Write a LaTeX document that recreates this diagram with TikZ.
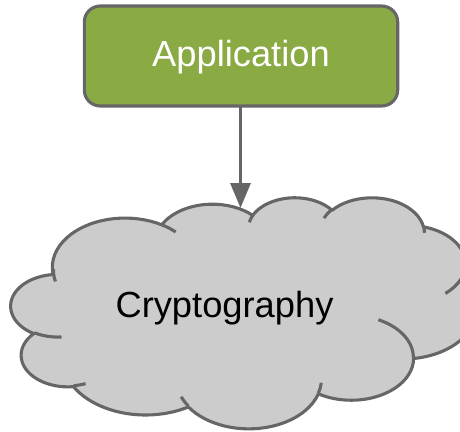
\documentclass[tikz,border=0pt]{standalone}
\usepackage{fontspec}
\setmainfont{Liberation Sans}
\usetikzlibrary{arrows.meta}

\definecolor{appgreen}{RGB}{138,170,67}
\definecolor{edgegray}{RGB}{102,102,102}
\definecolor{cloudgray}{RGB}{204,204,204}

% Cloud outline built from elliptic arcs, each given by its radii and its
% start/sweep angles (visual angles, converted here to parametric ones).
\newcommand\cloudpathlist{}
\newcommand\addcloudarc[4]{%
  \pgfmathsetmacro\arcstart{atan2((#1)*sin(#3),(#2)*cos(#3))}%
  \pgfmathsetmacro\arcend{atan2((#1)*sin(#3+#4),(#2)*cos(#3+#4))}%
  \pgfmathsetmacro\arcend{\arcend<\arcstart ? \arcend+360 : \arcend}%
  \xdef\cloudpathlist{\cloudpathlist arc[start angle=\arcstart, end angle=\arcend, x radius=#1, y radius=#2] }%
}
\newcommand\cloudcrease[6]{%
  \pgfmathsetmacro\arcstart{atan2((#3)*sin(#5),(#4)*cos(#5))}%
  \pgfmathsetmacro\arcend{atan2((#3)*sin(#5+#6),(#4)*cos(#5+#6))}%
  \pgfmathsetmacro\arcend{\arcend<\arcstart ? \arcend+360 : \arcend}%
  \draw[cloudline] (#1,#2) arc[start angle=\arcstart, end angle=\arcend, x radius=#3, y radius=#4];%
}

\begin{document}
\begin{tikzpicture}[x=1pt, y=-1pt,
  box/.style={draw=edgegray, line width=3.1pt, fill=appgreen, rounded corners=16pt},
  cloudline/.style={draw=edgegray, line width=3.1pt, line join=round},
  label/.style={font=\fontsize{36.3}{42}\selectfont, inner sep=0pt, anchor=base},
  link/.style={draw=edgegray, line width=3.3pt, -{Triangle[length=25pt, width=20pt]}}]

\useasboundingbox (0,0) rectangle (460,431);
\clip (0,0) rectangle (460,431);

% Application box
\draw[box] (84.3,6) rectangle (397.7,106);
\node[label, text=white] (app) at (241,66) {Application};
\coordinate (appbottom) at (240.5,106);

% Cryptography cloud
\begin{scope}[shift={(11,197)}, xscale=10.764, yscale=5.347]
  \addcloudarc{6.753}{9.190}{-190.4875}{123.7805}
  \addcloudarc{5.333}{7.267}{-144.1024}{89.9452}
  \addcloudarc{4.365}{5.945}{-145.8079}{99.7230}
  \addcloudarc{4.857}{6.595}{-130.9861}{117.2417}
  \addcloudarc{5.333}{7.273}{-78.7089}{109.0269}
  \addcloudarc{6.775}{9.220}{-46.2673}{130.2690}
  \addcloudarc{5.785}{7.867}{0.6250}{114.0333}
  \addcloudarc{6.752}{9.215}{22.4516}{115.1726}
  \addcloudarc{7.720}{10.543}{66.2426}{75.7110}
  \addcloudarc{4.360}{5.918}{-274.9421}{146.7356}
  \addcloudarc{4.345}{5.945}{-246.8285}{152.5189}
  \edef\drawcloud{\noexpand\draw[cloudline, fill=cloudgray] (3.9,14.37) \cloudpathlist -- cycle;}
  \drawcloud
  % creases between the lobes
  \cloudcrease{4.693}{26.177}{4.345}{5.945}{86.7420}{26.4295}
  \cloudcrease{6.928}{34.899}{4.360}{5.918}{73.6105}{11.4482}
  \cloudcrease{16.478}{39.090}{6.752}{9.215}{137.6242}{14.0729}
  \cloudcrease{28.827}{34.751}{6.752}{9.215}{6.4533}{15.9984}
  \cloudcrease{34.129}{22.954}{5.785}{7.867}{-70.2924}{70.9174}
  \cloudcrease{41.798}{15.354}{5.333}{7.273}{30.3180}{27.7515}
  \cloudcrease{38.324}{5.426}{4.857}{6.595}{-13.7443}{14.8589}
  \cloudcrease{29.078}{3.952}{4.857}{6.595}{-149.1815}{18.1954}
  \cloudcrease{22.141}{4.720}{4.365}{5.945}{-163.4943}{17.6864}
  \cloudcrease{14.000}{5.192}{6.753}{9.190}{-66.7070}{12.3194}
  \cloudcrease{4.127}{15.789}{6.753}{9.190}{162.0461}{19.4261}
\end{scope}
\node[label, text=black] (crypto) at (224.5,317.7) {Cryptography};
\coordinate (cloudtop) at (240.5,208);

% Connector
\draw[link] (appbottom) -- (cloudtop);
\end{tikzpicture}
\end{document}
